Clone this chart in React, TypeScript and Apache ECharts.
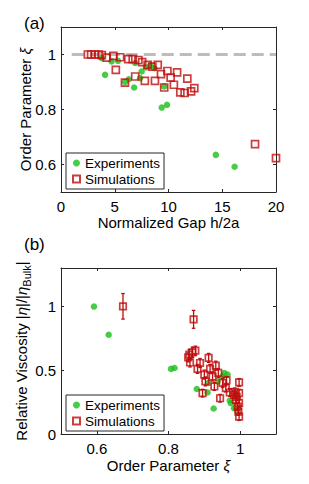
import React, { useEffect, useRef } from "react";
import * as echarts from "echarts";

// ---- Panel (a): order parameter vs normalized gap ----
const expGap = [3.8, 4.1, 4.7, 5.3, 5.95, 6.3, 6.8, 6.9, 7.35, 7.5, 7.9, 8.28, 8.7, 9.6, 9.37, 9.86, 14.4, 16.15];
const expOrder = [0.987, 0.926, 0.975, 0.977, 0.9, 0.91, 0.88, 0.969, 0.914, 0.938, 0.953, 0.96, 0.95, 0.884, 0.807, 0.817, 0.635, 0.592];
const simGap = [2.5, 2.8, 3.15, 3.5, 3.8, 4.25, 4.87, 5.5, 5.1, 6.26, 6.67, 7.2, 7.55, 8.06, 8.5, 9.0, 5.95, 6.9, 7.8, 8.74, 9.3, 9.9, 10.2, 10.8, 9.6, 10.5, 11.75, 11.1, 11.5, 12.1, 12.4, 18.05, 20];
const simOrder = [1.0, 1.0, 1.0, 1.0, 0.998, 0.989, 0.995, 0.99, 0.944, 0.983, 0.983, 0.98, 0.972, 0.962, 0.956, 0.962, 0.898, 0.92, 0.904, 0.904, 0.929, 0.94, 0.916, 0.935, 0.88, 0.89, 0.912, 0.862, 0.86, 0.866, 0.878, 0.674, 0.623];
const refLineGap = [1, 20];
const refLineOrder = [1, 1];
const orderTicksA = [0.6, 0.8, 1];

// ---- Panel (b): relative viscosity vs order parameter ----
const expOrderB = [0.592, 0.633, 0.807, 0.817, 0.879, 0.909, 0.926, 0.937, 0.912, 0.95, 0.956, 0.965, 0.971, 0.974, 0.983, 0.993];
const expVisc = [0.998, 0.777, 0.51, 0.517, 0.352, 0.325, 0.2, 0.412, 0.4, 0.45, 0.478, 0.465, 0.262, 0.241, 0.202, 0.176];
const simOrderB = [0.673, 0.87, 0.858, 0.867, 0.875, 0.86, 0.855, 0.888, 0.912, 0.881, 0.916, 0.932, 0.9, 0.923, 0.939, 0.903, 0.928, 0.951, 0.962, 0.96, 0.997, 0.895, 0.944, 0.971, 0.983, 0.997, 0.988, 0.997, 0.993, 0.995, 0.997, 0.985, 0.99];
const simVisc = [1.0, 0.898, 0.622, 0.64, 0.653, 0.56, 0.6, 0.556, 0.596, 0.51, 0.51, 0.535, 0.465, 0.45, 0.478, 0.412, 0.372, 0.4, 0.42, 0.36, 0.404, 0.32, 0.28, 0.325, 0.307, 0.32, 0.268, 0.244, 0.215, 0.176, 0.136, 0.33, 0.29];
const simErr = [0.1, 0.07, 0.04, 0.04, 0.035, 0.035, 0.035, 0.035, 0.035, 0.035, 0.035, 0.035, 0.035, 0.035, 0.035, 0.035, 0.03, 0.035, 0.03, 0.03, 0.03, 0.03, 0.03, 0.03, 0.03, 0.03, 0.03, 0.03, 0.03, 0.03, 0.03, 0.03, 0.03];
const orderTicksB = [0.6, 0.8, 1];
const viscTicks = [0, 0.5, 1];

const FONT = "'Liberation Sans', Arial, Helvetica, sans-serif";
const RED = "#bf0d0d";
const GREEN = "#19bf19";
const AXIS = "#262626";

function ax(kind: "x" | "y", grid: number, pos: string, min: number, max: number, extra: any, labels: boolean, name?: any, nameGap?: number, rich?: any) {
  const cv = extra.customValues ? { customValues: extra.customValues } : {};
  return {
    type: "value",
    gridIndex: grid,
    position: pos,
    min,
    max,
    ...extra,
    name: name,
    nameLocation: "middle",
    nameGap: nameGap,
    nameMoveOverlap: false,
    nameTextStyle: { fontFamily: FONT, fontSize: 15, color: "#000", rich },
    axisLine: { show: true, onZero: false, lineStyle: { color: AXIS, width: 1 } },
    axisTick: { show: true, inside: true, length: 3, lineStyle: { color: AXIS }, ...cv },
    axisLabel: { show: labels, fontFamily: FONT, fontSize: 15, color: "#000", margin: kind === "x" ? 7 : 5, ...cv },
    splitLine: { show: false },
  };
}

export default function App() {
  const ref = useRef<HTMLDivElement>(null);
  useEffect(() => {
    if (!ref.current) return;
    const chart = echarts.init(ref.current, null, { renderer: "svg" });
    const italic = { fontFamily: FONT, fontSize: 15, fontStyle: "italic", color: "#000" };
    const legendBase = {
      orient: "vertical",
      itemWidth: 7,
      itemHeight: 7,
      itemGap: 2,
      padding: [3, 4, 3, 6],
      borderColor: AXIS,
      borderWidth: 1,
      backgroundColor: "#fff",
      textStyle: { fontFamily: FONT, fontSize: 13.5, color: "#000" },
      data: ["Experiments", "Simulations"],
    };
    const option: any = {
      animation: false,
      backgroundColor: "#fff",
      title: [
        { text: "(a)", left: 24, top: 15, padding: 0, textStyle: { fontFamily: FONT, fontSize: 17, fontWeight: "normal", color: "#000" } },
        { text: "(b)", left: 24, top: 236, padding: 0, textStyle: { fontFamily: FONT, fontSize: 17, fontWeight: "normal", color: "#000" } },
      ],
      grid: [
        { left: 61, top: 27, width: 215, height: 165 },
        { left: 61, top: 268, width: 215, height: 166 },
      ],
      legend: [
        { ...legendBase, left: 66, top: 153 },
        { ...legendBase, left: 66, top: 395 },
      ],
      xAxis: [
        ax("x", 0, "bottom", 0, 20, { interval: 5 }, true, "Normalized Gap h/2a", 23),
        ax("x", 0, "top", 0, 20, { interval: 5 }, false),
        ax("x", 1, "bottom", 0.5, 1.1, { customValues: orderTicksB }, true, "Order Parameter {i|ξ}", 24, { i: italic }),
        ax("x", 1, "top", 0.5, 1.1, { customValues: orderTicksB }, false),
      ],
      yAxis: [
        ax("y", 0, "left", 0.5, 1.1, { customValues: orderTicksA }, true, "Order Parameter {i|ξ}", 28, { i: italic }),
        ax("y", 0, "right", 0.5, 1.1, { customValues: orderTicksA }, false),
        ax("y", 1, "left", 0, 1.3, { customValues: viscTicks }, true, "{t|Relative Viscosity |}{i|η}{t||/|}{i|η}{s|Bulk}{t||}", 29, {
          t: { fontFamily: FONT, fontSize: 15, color: "#000", lineHeight: 22 },
          i: { ...italic, lineHeight: 22 },
          s: { fontFamily: FONT, fontSize: 11, color: "#000", lineHeight: 12, verticalAlign: "bottom" },
        }),
        ax("y", 1, "right", 0, 1.3, { customValues: viscTicks }, false),
      ],
      series: [
        {
          name: "ref",
          type: "line",
          xAxisIndex: 0,
          yAxisIndex: 0,
          data: refLineGap.map((g, i) => [g, refLineOrder[i]]),
          symbol: "none",
          lineStyle: { color: "#bdbdbd", width: 3, type: [12, 6] },
          z: 1,
          silent: true,
        },
        {
          name: "Experiments",
          type: "scatter",
          xAxisIndex: 0,
          yAxisIndex: 0,
          data: expGap.map((g, i) => [g, expOrder[i]]),
          symbol: "circle",
          symbolSize: 6.5,
          itemStyle: { color: GREEN },
          z: 3,
        },
        {
          name: "Simulations",
          type: "scatter",
          xAxisIndex: 0,
          yAxisIndex: 0,
          data: simGap.map((g, i) => [g, simOrder[i]]),
          symbol: "rect",
          symbolSize: 7,
          itemStyle: { color: "rgba(255,255,255,0)", borderColor: RED, borderWidth: 1.7 },
          z: 4,
        },
        {
          name: "Experiments",
          type: "scatter",
          xAxisIndex: 2,
          yAxisIndex: 2,
          data: expOrderB.map((o, i) => [o, expVisc[i]]),
          symbol: "circle",
          symbolSize: 6.5,
          itemStyle: { color: GREEN },
          z: 3,
        },
        {
          name: "err",
          type: "custom",
          xAxisIndex: 2,
          yAxisIndex: 2,
          data: simOrderB.map((o, i) => [o, simVisc[i], simErr[i]]),
          encode: { x: 0, y: 1 },
          silent: true,
          z: 4,
          renderItem: (params: any, api: any) => {
            const x = api.value(0);
            const y = api.value(1);
            const e = api.value(2);
            const lo = api.coord([x, y - e]);
            const hi = api.coord([x, y + e]);
            const cw = 1.8;
            const st = { stroke: RED, lineWidth: 1.3 };
            return {
              type: "group",
              children: [
                { type: "line", shape: { x1: lo[0], y1: lo[1], x2: hi[0], y2: hi[1] }, style: st },
                { type: "line", shape: { x1: lo[0] - cw, y1: lo[1], x2: lo[0] + cw, y2: lo[1] }, style: st },
                { type: "line", shape: { x1: hi[0] - cw, y1: hi[1], x2: hi[0] + cw, y2: hi[1] }, style: st },
              ],
            };
          },
        },
        {
          name: "Simulations",
          type: "scatter",
          xAxisIndex: 2,
          yAxisIndex: 2,
          data: simOrderB.map((o, i) => [o, simVisc[i]]),
          symbol: "rect",
          symbolSize: 6.5,
          itemStyle: { color: "rgba(255,255,255,0)", borderColor: RED, borderWidth: 1.7 },
          z: 5,
        },
      ],
    };
    chart.setOption(option);
    return () => chart.dispose();
  }, []);
  return <div ref={ref} style={{ position: "fixed", left: 0, top: 0, width: 309, height: 484 }} />;
}
